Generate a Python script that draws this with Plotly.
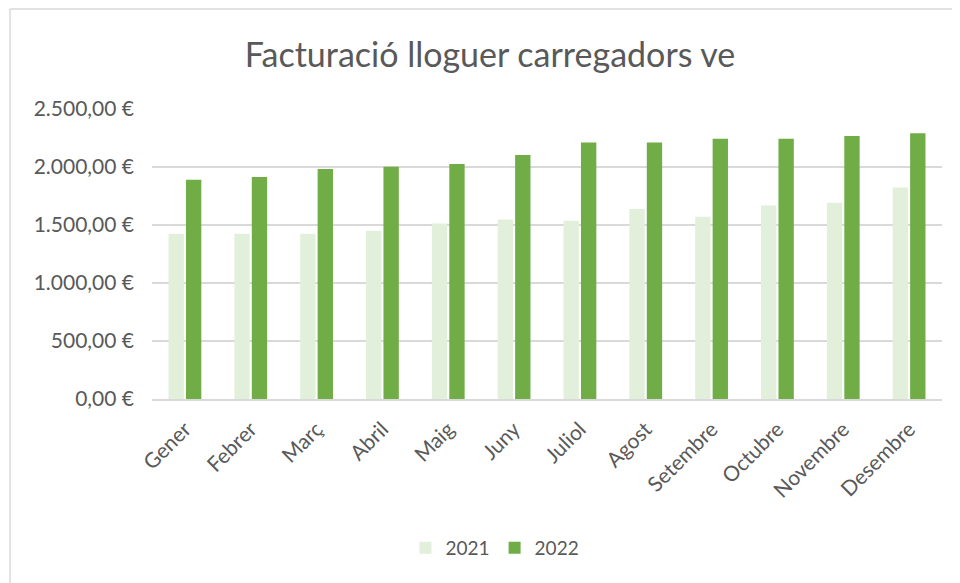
import plotly.graph_objects as go

months = ["Gener", "Febrer", "Març", "Abril", "Maig", "Juny", "Juliol",
          "Agost", "Setembre", "Octubre", "Novembre", "Desembre"]
v2021 = [1425, 1425, 1425, 1450, 1513, 1548, 1536, 1637, 1571, 1668, 1692, 1824]
v2022 = [1890, 1913, 1982, 2002, 2025, 2103, 2212, 2212, 2244, 2244, 2267, 2290]
tick_vals = [0, 500, 1000, 1500, 2000, 2500]
tick_text = ["0,00\u00a0€", "500,00\u00a0€", "1.000,00\u00a0€", "1.500,00\u00a0€",
             "2.000,00\u00a0€", "2.500,00\u00a0€"]

FONT = "Lato"
GREY = "#595959"
OFF = 8  # page body margin

fig = go.Figure()
fig.add_trace(go.Bar(name="2021", x=months, y=v2021, marker_color="#E2EFDA",
                     marker_line_width=0))
fig.add_trace(go.Bar(name="2022", x=months, y=v2022, marker_color="#70AD47",
                     marker_line_width=0))

W, H = 952, 575
L = 152 - OFF
T = 109 - OFF
PR = 942 - OFF
PB = 399 - OFF
R = W - PR
B = H - PB
pw = PR - L
ph = PB - T

def px_x(x):
    return (x - OFF - L) / pw

def px_y(y):
    return (PB - (y - OFF)) / ph

fig.update_layout(
    width=W, height=H,
    margin=dict(l=L, r=R, t=T, b=B, autoexpand=False),
    paper_bgcolor="white", plot_bgcolor="white",
    barmode="group", bargap=0.47, bargroupgap=0.12,
    title=dict(text="Facturació lloguer carregadors ve", x=(490 - OFF) / W,
               xanchor="center", y=1 - (55 - OFF) / H, yanchor="middle",
               font=dict(family=FONT, size=34, color=GREY)),
    font=dict(family=FONT, size=21, color=GREY),
    legend=dict(orientation="h", x=px_x(495), xanchor="center",
                y=px_y(548), yanchor="middle",
                font=dict(family=FONT, size=19, color=GREY),
                itemwidth=30, traceorder="normal"),
    xaxis=dict(tickangle=-45, showgrid=False, showline=True, linecolor="#D9D9D9",
               linewidth=1.5, ticks="", ticklabelstandoff=8,
               tickfont=dict(family=FONT, size=21, color=GREY)),
    yaxis=dict(range=[0, 2500], tickvals=tick_vals, ticktext=tick_text,
               showgrid=True, gridcolor="#D9D9D9", gridwidth=1.5,
               zeroline=False, showline=False, ticks="", ticklen=0,
               ticklabelstandoff=17,
               tickfont=dict(family=FONT, size=21, color=GREY)),
    shapes=[
        dict(type="line", xref="paper", yref="paper",
             x0=px_x(10), x1=px_x(980), y0=px_y(9), y1=px_y(9),
             line=dict(color="#D9D9D9", width=1.5)),
        dict(type="line", xref="paper", yref="paper",
             x0=px_x(10), x1=px_x(10), y0=px_y(9), y1=px_y(600),
             line=dict(color="#D9D9D9", width=1.5)),
    ],
)

fig.write_html("out.html")
